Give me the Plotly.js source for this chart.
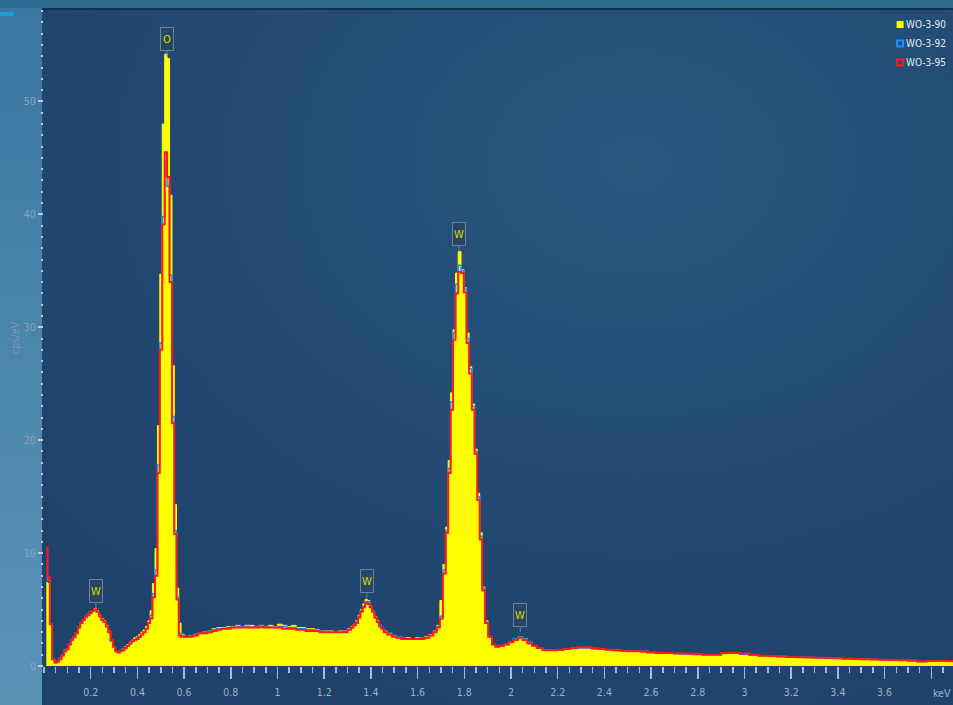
<!DOCTYPE html>
<html>
<head>
<meta charset="utf-8">
<script src="https://cdn.plot.ly/plotly-3.0.1.min.js"></script>
<style>
  html, body { margin:0; padding:0; width:953px; height:705px; overflow:hidden; }
  body { position:relative; background:linear-gradient(180deg,#3a76a0 0%,#4b86ad 50%,#5a93b8 100%); }
  #topstrip { position:absolute; left:0; top:0; width:953px; height:8px; background:#2f6b93; }
  #topline { position:absolute; left:42px; top:8px; width:911px; height:2px; background:#182f4a; }
  #panel { position:absolute; left:42px; top:10px; width:911px; height:695px;
           background:radial-gradient(ellipse 85% 85% at 65% 22%, #28567f 0%, #234b76 50%, #1f426b 100%); }
  #accent { position:absolute; left:0; top:12px; width:14px; height:4px; background:#1b9bd8; }
  #chart { position:absolute; left:0; top:0; width:953px; height:705px; }
  .legend .legendpoints { transform: translateX(14px); }
</style>
</head>
<body>
<div id="topstrip"></div>
<div id="topline"></div>
<div id="panel"></div>
<div id="accent"></div>
<div id="chart"></div>
<script>
// Energy channels (keV)
const energy = [
  0.01,0.02,0.03,0.04,0.05,0.06,0.07,0.08,0.09,0.10,
  0.11,0.12,0.13,0.14,0.15,0.16,0.17,0.18,0.19,0.20,
  0.21,0.22,0.23,0.24,0.25,0.26,0.27,0.28,0.29,0.30,
  0.31,0.32,0.33,0.34,0.35,0.36,0.37,0.38,0.39,0.40,
  0.41,0.42,0.43,0.44,0.45,
  0.459,0.470,0.481,0.491,0.501,0.512,0.522,0.532,0.543,0.553,0.563,0.572,0.582,0.592,
  0.61,0.63,0.65,0.67,0.69,0.71,0.73,0.75,0.77,0.79,
  0.81,0.83,0.85,0.87,0.89,0.91,0.93,0.95,0.97,0.99,
  1.01,1.03,1.05,1.07,1.09,1.11,1.13,1.15,1.17,1.19,
  1.21,1.23,1.25,1.27,1.29,
  1.31,1.32,1.33,1.34,1.35,1.36,1.37,1.38,1.39,1.40,1.41,1.42,1.43,1.44,1.45,1.46,
  1.48,1.50,1.52,1.54,1.56,1.58,1.60,1.62,1.64,1.66,
  1.675,1.689,1.702,1.715,1.726,1.736,1.747,1.757,1.768,1.780,1.792,
  1.804,1.815,1.826,1.838,1.850,1.861,1.871,1.882,1.895,1.910,1.927,
  1.94,1.96,1.98,2.00,2.02,2.04,2.06,2.08,2.10,2.12,
  2.15,2.18,2.21,2.24,2.27,2.30,2.33,2.36,2.39,2.42,2.45,2.48,2.51,2.54,2.57,
  2.60,2.64,2.68,2.72,2.76,2.80,2.84,2.88,
  2.92,2.96,3.00,3.04,3.08,3.12,3.16,3.20,
  3.24,3.28,3.32,3.36,3.40,3.44,3.48,3.52,
  3.56,3.60,3.64,3.68,3.72,3.76,3.80,3.84,
  3.88,3.90
];

// WO-3-90 (yellow, filled)
const wo90 = [
  7.4,7.3,3.6,0.5,0.2,0.3,0.6,0.9,1.2,1.5,
  1.8,2.2,2.6,2.8,3.3,3.7,4.0,4.3,4.5,4.7,
  4.9,5.1,4.9,4.5,4.2,4.0,3.6,3.1,2.3,1.7,
  1.3,1.2,1.3,1.5,1.7,1.9,2.1,2.3,2.5,2.6,
  2.8,3.0,3.2,3.5,4.0,
  4.9,7.3,10.4,21.3,34.7,48.0,54.2,53.8,41.7,26.6,14.3,6.9,3.8,2.8,
  2.6,2.7,2.8,2.9,3.0,3.1,3.3,3.4,3.4,3.5,
  3.5,3.6,3.5,3.6,3.6,3.5,3.6,3.5,3.6,3.5,
  3.7,3.6,3.5,3.6,3.4,3.4,3.3,3.3,3.2,3.1,
  3.1,3.1,3.0,3.1,3.1,
  3.3,3.5,3.7,4.0,4.5,5.0,5.5,5.9,5.8,5.3,4.9,4.4,4.0,3.6,3.3,3.1,
  2.9,2.7,2.6,2.5,2.5,2.4,2.5,2.5,2.6,2.8,
  3.1,3.6,5.8,9.0,12.3,18.2,24.2,29.8,34.8,36.7,35.1,
  33.5,29.5,26.5,23.2,19.2,15.3,11.8,7.0,4.0,2.6,1.9,
  1.7,1.8,1.9,2.1,2.3,2.6,2.4,2.1,1.8,1.6,
  1.45,1.4,1.4,1.45,1.5,1.6,1.6,1.5,1.45,1.4,1.4,1.35,1.3,1.3,1.25,
  1.2,1.15,1.1,1.05,1.05,1.0,1.0,0.95,
  1.1,1.1,1.05,0.95,0.9,0.85,0.85,0.8,
  0.75,0.75,0.7,0.7,0.68,0.65,0.62,0.6,
  0.56,0.55,0.52,0.5,0.45,0.38,0.42,0.45,
  0.43,0.42
];

// WO-3-92 (blue outline)
const wo92 = [
  7.8,7.6,3.7,0.6,0.3,0.4,0.7,1.0,1.4,1.5,
  1.9,2.3,2.5,2.9,3.4,3.8,4.1,4.3,4.6,4.8,
  4.9,5.0,4.8,4.4,4.1,3.9,3.5,3.0,2.2,1.7,
  1.3,1.2,1.3,1.5,1.6,1.8,2.0,2.2,2.3,2.5,
  2.6,2.8,3.0,3.3,3.8,
  4.5,6.4,8.5,17.8,28.6,39.8,44.6,42.5,34.6,22.1,12.0,6.1,2.9,2.7,
  2.6,2.7,2.8,2.9,3.0,3.1,3.2,3.3,3.3,3.4,
  3.4,3.5,3.5,3.5,3.4,3.5,3.4,3.5,3.4,3.4,
  3.5,3.5,3.4,3.4,3.3,3.3,3.2,3.2,3.1,3.1,
  3.0,3.0,3.0,3.0,3.1,
  3.2,3.4,3.6,3.9,4.4,4.9,5.3,5.7,5.7,5.3,4.9,4.3,3.9,3.6,3.3,3.1,
  2.8,2.7,2.6,2.5,2.4,2.4,2.4,2.5,2.5,2.7,
  3.0,3.5,4.4,8.5,12.0,17.5,23.4,29.5,33.8,35.5,35.0,
  33.4,29.0,26.3,23.0,19.0,15.0,11.5,6.9,3.9,2.6,1.9,
  1.7,1.8,1.9,2.1,2.4,2.6,2.4,2.1,1.8,1.6,
  1.45,1.4,1.4,1.5,1.55,1.6,1.6,1.55,1.5,1.45,1.4,1.35,1.3,1.3,1.3,
  1.2,1.2,1.15,1.1,1.05,1.05,1.0,1.0,
  1.1,1.15,1.05,0.95,0.9,0.88,0.85,0.8,
  0.78,0.75,0.72,0.7,0.68,0.65,0.6,0.6,
  0.58,0.55,0.52,0.5,0.48,0.4,0.44,0.46,
  0.44,0.42
];

// WO-3-95 (red outline)
const wo95 = [
  10.5,7.9,3.7,0.6,0.3,0.4,0.6,0.9,1.3,1.5,
  1.9,2.3,2.6,2.9,3.4,3.8,4.1,4.4,4.5,4.7,
  4.9,5.0,4.8,4.4,4.1,3.9,3.5,3.0,2.3,1.7,
  1.3,1.2,1.3,1.4,1.6,1.8,2.0,2.2,2.3,2.4,
  2.6,2.8,3.0,3.3,3.8,
  4.2,6.1,8.0,17.1,28.0,39.1,45.5,43.3,34.0,21.5,11.7,5.9,2.7,2.6,
  2.6,2.6,2.7,2.9,2.9,3.0,3.1,3.2,3.3,3.3,
  3.4,3.4,3.4,3.4,3.4,3.4,3.5,3.4,3.4,3.4,
  3.4,3.3,3.3,3.3,3.2,3.2,3.1,3.1,3.1,3.0,
  3.0,3.0,3.0,3.0,3.0,
  3.2,3.4,3.6,3.8,4.3,4.8,5.2,5.6,5.5,5.2,4.8,4.3,3.9,3.5,3.3,3.0,
  2.8,2.6,2.5,2.4,2.4,2.4,2.4,2.4,2.5,2.7,
  3.0,3.4,4.2,8.2,11.8,17.1,22.7,28.9,33.0,34.9,34.8,
  33.1,28.6,25.9,22.7,18.8,14.7,11.2,6.7,3.8,2.6,1.9,
  1.7,1.8,1.9,2.1,2.3,2.5,2.3,2.0,1.8,1.6,
  1.4,1.4,1.45,1.5,1.6,1.65,1.65,1.55,1.5,1.45,1.4,1.35,1.3,1.3,1.27,
  1.2,1.15,1.15,1.1,1.1,1.05,1.0,1.0,
  1.15,1.15,1.1,1.0,0.9,0.88,0.85,0.8,
  0.78,0.75,0.72,0.7,0.68,0.65,0.62,0.6,
  0.57,0.55,0.53,0.5,0.47,0.39,0.44,0.46,
  0.44,0.42
];

const seriesNames = ['WO-3-90','WO-3-92','WO-3-95'];
const seriesColors = ['#ffff00','#1e8fff','#ff1a1a'];

const xTickVals = [0.2,0.4,0.6,0.8,1,1.2,1.4,1.6,1.8,2,2.2,2.4,2.6,2.8,3,3.2,3.4,3.6,3.8];
const xTickText = ['0.2','0.4','0.6','0.8','1','1.2','1.4','1.6','1.8','2','2.2','2.4','2.6','2.8','3','3.2','3.4','3.6',''];
const yTickVals = [0,10,20,30,40,50];

// Peak labels: element, energy (keV), label tip height (cps/eV)
const peakLabels = ['O','W','W','W','W'];
const peakEnergy = [0.527,0.222,1.383,1.777,2.040];
const peakTip = [54.0,5.1,6.0,36.8,3.0];

const FONT = '"Liberation Sans Narrow","DejaVu Sans Condensed","Roboto Condensed","Liberation Sans",sans-serif';

const traces = [
  {x:energy, y:wo90, type:'scatter', mode:'lines', name:seriesNames[0], showlegend:false,
   line:{shape:'hvh', color:seriesColors[0], width:1}, fill:'tozeroy', fillcolor:seriesColors[0], hoverinfo:'skip'},
  {x:energy, y:wo92, type:'scatter', mode:'lines', name:seriesNames[1], showlegend:false,
   line:{shape:'hvh', color:seriesColors[1], width:1.5}, hoverinfo:'skip'},
  {x:energy, y:wo95, type:'scatter', mode:'lines', name:seriesNames[2], showlegend:false,
   line:{shape:'hvh', color:seriesColors[2], width:2}, hoverinfo:'skip'},
  // legend entries
  {x:[null], y:[null], type:'scatter', mode:'markers', name:seriesNames[0],
   marker:{symbol:'square', size:7, color:seriesColors[0], line:{width:0}}},
  {x:[null], y:[null], type:'scatter', mode:'markers', name:seriesNames[1],
   marker:{symbol:'square-open', size:6, color:seriesColors[1], line:{width:2, color:seriesColors[1]}}},
  {x:[null], y:[null], type:'scatter', mode:'markers', name:seriesNames[2],
   marker:{symbol:'square-open', size:6, color:seriesColors[2], line:{width:2, color:seriesColors[2]}}}
];

const annotations = peakLabels.map((t,i) => ({
  x:peakEnergy[i], y:peakTip[i], xref:'x', yref:'y', text:t,
  showarrow:true, arrowhead:0, arrowwidth:1, arrowcolor:'#6a839c', ax:0, ay:-17,
  bgcolor:'#2a4562', bordercolor:'#6a839c', borderwidth:1, borderpad:1,
  width:10, height:20, font:{family:FONT, size:11, color:'#d6dc00'}
}));
annotations.push({
  x:0.988, y:-0.041, xref:'paper', yref:'paper', text:'keV', showarrow:false,
  xanchor:'center', yanchor:'middle', font:{family:FONT, size:10.5, color:'#9fb2c7'}
});

const layout = {
  width:953, height:705,
  margin:{l:44, r:0, t:10, b:39, pad:0},
  paper_bgcolor:'rgba(0,0,0,0)', plot_bgcolor:'rgba(0,0,0,0)',
  font:{family:FONT, size:10, color:'#9fb2c7'},
  showlegend:true,
  legend:{x:0.999, xanchor:'right', y:1, yanchor:'top', bgcolor:'rgba(0,0,0,0)', borderwidth:0,
          font:{family:FONT, size:10, color:'#e3eaf2'}, itemwidth:30, tracegroupgap:0},
  xaxis:{range:[0,3.893], showgrid:false, zeroline:false, showline:false, fixedrange:true,
         tickmode:'array', tickvals:xTickVals, ticktext:xTickText,
         ticks:'outside', ticklen:12, tickwidth:1.5, tickcolor:'#a8bace',
         minor:{tickmode:'linear', tick0:0, dtick:0.05, ticks:'outside', ticklen:6, tickwidth:1.5, tickcolor:'#a8bace', showgrid:false},
         tickfont:{family:FONT, size:10.5, color:'#9fb2c7'}, ticklabelstandoff:4},
  yaxis:{range:[0,58.1], showgrid:false, zeroline:false, showline:false, fixedrange:true,
         tickmode:'array', tickvals:yTickVals,
         ticks:'outside', ticklen:5, tickwidth:2, tickcolor:'#bccbd9',
         minor:{tickmode:'linear', tick0:0, dtick:1, ticks:'outside', ticklen:2, tickwidth:2, tickcolor:'#bccbd9', showgrid:false},
         tickfont:{family:FONT, size:10.5, color:'#8ea3bb'},
         title:{text:'cps/eV', font:{family:FONT, size:11, color:'#8298b2'}, standoff:2}},
  annotations:annotations
};

Plotly.newPlot('chart', traces, layout, {displayModeBar:false, staticPlot:true});
</script>
</body>
</html>
